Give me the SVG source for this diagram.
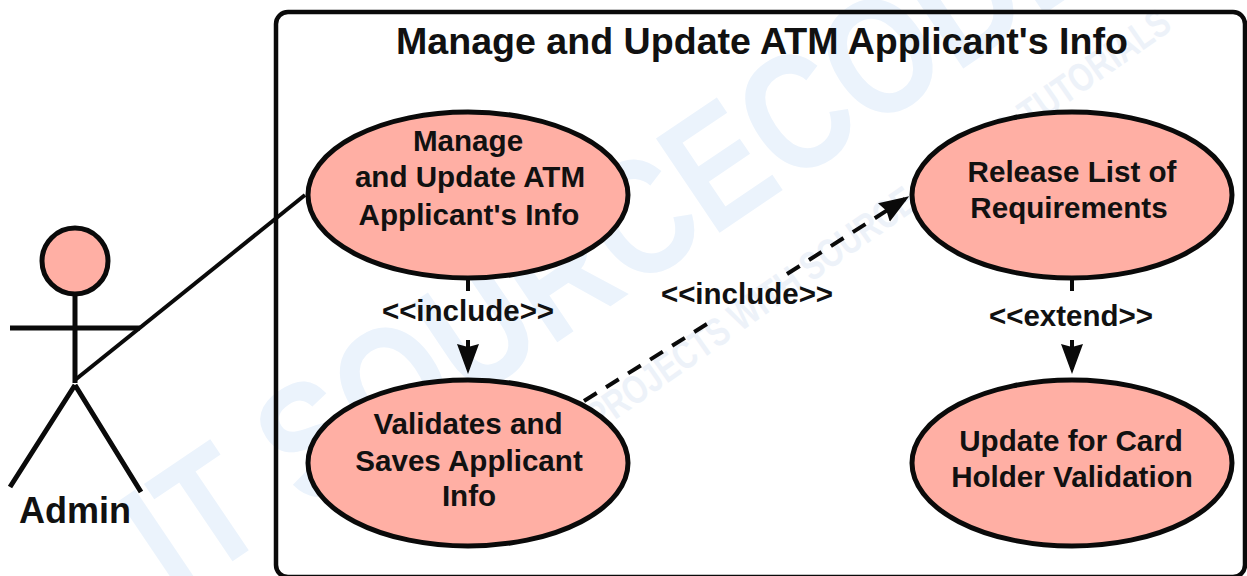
<svg xmlns="http://www.w3.org/2000/svg" width="1247" height="576" viewBox="0 0 1247 576">
<style>
text{font-family:"Liberation Sans",Arial,sans-serif;font-weight:bold;fill:#111;text-anchor:middle}
.uc{fill:#ffafa4;stroke:#0a0a0a;stroke-width:5}
.t{font-size:29.6px}
.s{font-size:29.5px}
.l{fill:none;stroke:#0a0a0a;stroke-width:4}
.wm{fill:#ebf3fc;font-size:165px;text-anchor:start}
.wm2{fill:#edf2f9;font-size:40px;text-anchor:start}
</style>
<defs><marker id="arrow" markerUnits="userSpaceOnUse" markerWidth="32" markerHeight="24" refX="25" refY="12" orient="auto"><path d="M0 1L30 12L0 23L3 12Z" fill="#0a0a0a"/></marker></defs>
<rect width="1247" height="576" fill="#fff"/>
<g id="watermark">
<text class="wm" transform="translate(175 600) rotate(-34)" textLength="1130" lengthAdjust="spacingAndGlyphs">IT SOURCECODE</text>
<text class="wm2" transform="translate(598 432) rotate(-35)" textLength="703" lengthAdjust="spacingAndGlyphs">PROJECTS WITH SOURCE CODE &amp; TUTORIALS</text>
</g>
<g id="system"><rect x="276" y="12" width="969" height="565" rx="12" fill="none" stroke="#0a0a0a" stroke-width="4.5"/>
<text x="762" y="54" style="font-size:37.6px">Manage and Update ATM Applicant's Info</text></g>
<g id="connectors">
<path class="l" d="M75 380L305 195"/>
<path class="l" d="M468 280V369" stroke-dasharray="11 49 60" marker-end="url(#arrow)"/>
<path class="l" d="M584 401L707 324M787 274L905 199" stroke-dasharray="15 11" marker-end="url(#arrow)"/>
<path class="l" d="M1072 280V369" stroke-dasharray="11 49 60" marker-end="url(#arrow)"/>
<text class="s" x="468" y="321">&lt;&lt;include&gt;&gt;</text>
<text class="s" x="747" y="304">&lt;&lt;include&gt;&gt;</text>
<text class="s" x="1071" y="326">&lt;&lt;extend&gt;&gt;</text>
</g>
<g id="actor-admin">
<circle class="uc" cx="75" cy="261" r="33"/>
<path class="l" style="stroke-width:5" d="M75 294V383M10 328H140M75 385L10 487M75 385L141 492"/>
<text x="75" y="523" style="font-size:36px">Admin</text>
</g>
<g id="uc-manage"><ellipse class="uc" cx="468" cy="195" rx="160" ry="83"/>
<text class="t" x="468" y="151">Manage</text><text class="t" x="470" y="187">and Update ATM</text><text class="t" x="469" y="225">Applicant's Info</text></g>
<g id="uc-validate"><ellipse class="uc" cx="468" cy="463" rx="160" ry="83"/>
<text class="t" x="468" y="434">Validates and</text><text class="t" x="469" y="471">Saves Applicant</text><text class="t" x="469" y="506">Info</text></g>
<g id="uc-release"><ellipse class="uc" cx="1072" cy="195" rx="160" ry="83"/>
<text class="t" x="1072" y="182">Release List of</text><text class="t" x="1069" y="218">Requirements</text></g>
<g id="uc-update"><ellipse class="uc" cx="1072" cy="463" rx="160" ry="83"/>
<text class="t" x="1071" y="451">Update for Card</text><text class="t" x="1072" y="487">Holder Validation</text></g>
</svg>
